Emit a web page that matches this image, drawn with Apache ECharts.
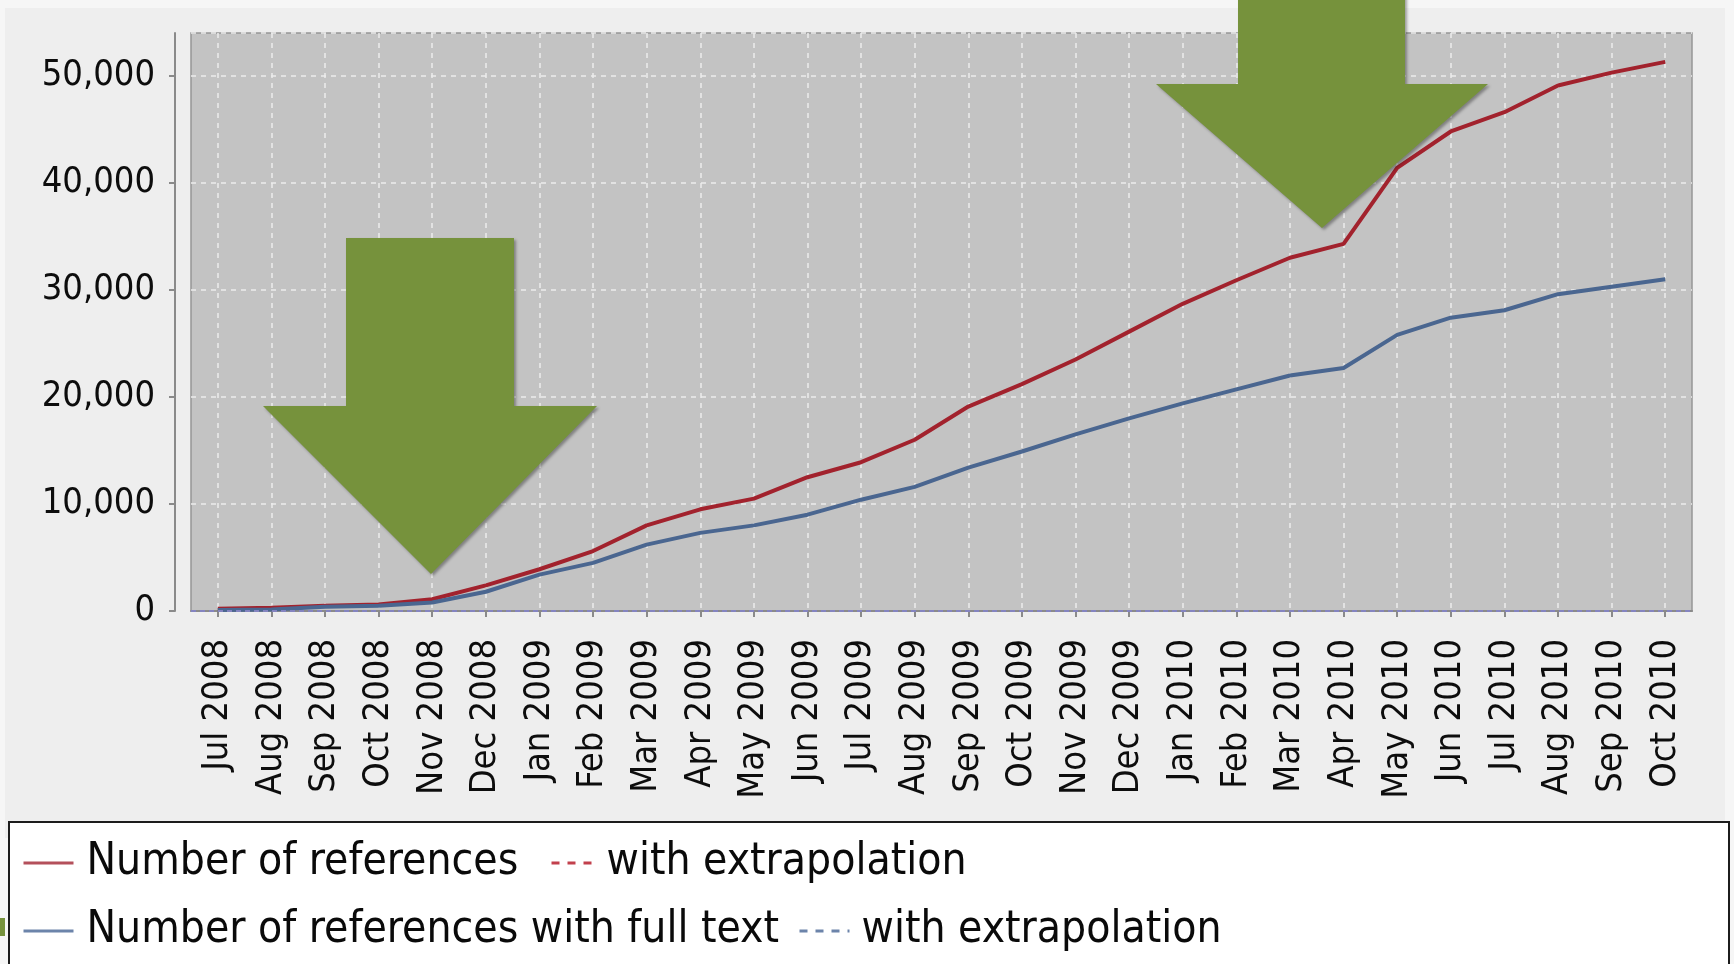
<!DOCTYPE html>
<html>
<head>
<meta charset="utf-8">
<script src="https://cdn.jsdelivr.net/npm/echarts@6/dist/echarts.min.js"></script>
<style>
  html, body { margin: 0; padding: 0; background: #f6f6f6; }
  #chart { width: 1734px; height: 964px; }
</style>
</head>
<body>
<div id="chart"></div>
<script>
  var months = ['Jul 2008', 'Aug 2008', 'Sep 2008', 'Oct 2008', 'Nov 2008', 'Dec 2008',
    'Jan 2009', 'Feb 2009', 'Mar 2009', 'Apr 2009', 'May 2009', 'Jun 2009', 'Jul 2009', 'Aug 2009',
    'Sep 2009', 'Oct 2009', 'Nov 2009', 'Dec 2009', 'Jan 2010', 'Feb 2010', 'Mar 2010', 'Apr 2010',
    'May 2010', 'Jun 2010', 'Jul 2010', 'Aug 2010', 'Sep 2010', 'Oct 2010'];
  var references = [200, 300, 500, 600, 1100, 2400, 3900, 5600, 8000, 9500, 10500, 12500, 13900, 16000,
    19100, 21200, 23500, 26100, 28700, 30900, 33000, 34300, 41400, 44800, 46600, 49100, 50300, 51300];
  var fullText = [100, 150, 400, 500, 800, 1800, 3400, 4500, 6200, 7300, 8000, 9000, 10400, 11600,
    13400, 14900, 16500, 18000, 19400, 20700, 22000, 22700, 25800, 27400, 28100, 29600, 30300, 31000];
  var yTicks = [0, 10000, 20000, 30000, 40000, 50000];

  var FONT = '"DejaVu Sans Condensed", "DejaVu Sans", sans-serif';
  var GREEN = '#76923c';

  var myChart = echarts.init(document.getElementById('chart'));

  // legend entry, one per component so each sits where the original has it
  function legendItem(name, left, top, width, color, gap) {
    return {
      data: [name],
      left: left,
      top: top,
      padding: 0,
      itemWidth: width,
      itemHeight: 12,
      selectedMode: false,
      itemStyle: { opacity: 0 },
      lineStyle: { color: color, width: 3 },
      formatter: function (n) {
        return n.indexOf('extrapolation') >= 0 ? 'with extrapolation' : n;
      },
      textStyle: {
        fontFamily: FONT,
        fontSize: 44,
        color: '#0a0a0a',
        padding: [0, 0, 0, gap]
      }
    };
  }

  myChart.setOption({
    backgroundColor: '#f6f6f6',
    animation: false,
    grid: {
      left: 191,
      right: 42,
      top: 33,
      bottom: 353,
      show: true,
      backgroundColor: '#c3c3c3',
      borderColor: '#979797',
      borderWidth: 1.5
    },
    legend: [
      legendItem('Number of references', 22, 841, 50, '#b4505b', 8),
      legendItem('Number of references with extrapolation', 550, 841, 47, '#c2404c', 3),
      legendItem('Number of references with full text', 22, 909, 50, '#6c84aa', 8),
      legendItem('Number of references with full text with extrapolation', 798, 909, 50, '#6c84aa', 7)
    ],
    xAxis: {
      type: 'category',
      data: months,
      boundaryGap: true,
      offset: 19,
      axisLine: { lineStyle: { color: '#8a8a8a', width: 2 } },
      axisTick: { show: true, alignWithLabel: true, length: 6, lineStyle: { color: '#8a8a8a', width: 2 } },
      axisLabel: {
        interval: 0,
        rotate: 90,
        margin: 9,
        fontFamily: FONT,
        fontSize: 36,
        color: '#0d0d0d'
      },
      splitLine: {
        show: true,
        alignWithLabel: true,
        lineStyle: { color: '#ededed', type: [5, 5], width: 1.5 }
      }
    },
    yAxis: {
      type: 'value',
      min: 0,
      max: 54000,
      offset: 16,
      axisLine: { show: true, lineStyle: { color: '#8a8a8a', width: 2 } },
      axisTick: { show: true, length: 6, lineStyle: { color: '#8a8a8a', width: 2 } },
      axisLabel: {
        showMaxLabel: false,
        margin: 20,
        fontFamily: FONT,
        fontSize: 36,
        color: '#0d0d0d',
        formatter: function (v) {
          return yTicks.indexOf(v) >= 0 ? v.toLocaleString('en-US') : '';
        }
      },
      splitLine: {
        show: true,
        lineStyle: { color: '#ededed', type: [5, 5], width: 1.5 }
      }
    },
    series: [{
      name: 'Number of references',
      type: 'line',
      data: references,
      symbol: 'none',
      color: '#a2222d',
      lineStyle: { color: '#a2222d', width: 4 }
    }, {
      name: 'Number of references with full text',
      type: 'line',
      data: fullText,
      symbol: 'none',
      color: '#4a6690',
      lineStyle: { color: '#4a6690', width: 4 },
      markLine: {
        silent: true,
        symbol: 'none',
        label: { show: false },
        lineStyle: { color: '#8484c0', type: [5, 4], width: 2 },
        data: [{ yAxis: 0 }]
      }
    }, {
      name: 'Number of references with extrapolation',
      type: 'line',
      data: [],
      symbol: 'none',
      color: '#c2404c',
      lineStyle: { color: '#c2404c', width: 3, type: [8, 8] }
    }, {
      name: 'Number of references with full text with extrapolation',
      type: 'line',
      data: [],
      symbol: 'none',
      color: '#6c84aa',
      lineStyle: { color: '#6c84aa', width: 3, type: [8, 8] }
    }],
    graphic: [{
      // panel behind the chart
      type: 'rect',
      z: -10,
      shape: { x: 5, y: 8, width: 1720, height: 830 },
      style: { fill: '#eeeeee' }
    }, {
      // legend box
      type: 'rect',
      z: 1,
      shape: { x: 9, y: 822, width: 1720, height: 160 },
      style: { fill: '#ffffff', stroke: '#1c1c1c', lineWidth: 2 }
    }, {
      type: 'rect',
      z: 2,
      shape: { x: 0, y: 918, width: 5, height: 18 },
      style: { fill: GREEN }
    }, {
      type: 'polygon',
      z: 100,
      shape: { points: [[346, 238], [514, 238], [514, 406], [597, 406], [431, 574], [263, 406], [346, 406]] },
      style: { fill: GREEN, shadowColor: 'rgba(0,0,0,0.35)', shadowBlur: 3, shadowOffsetX: 2, shadowOffsetY: 2 }
    }, {
      type: 'polygon',
      z: 100,
      shape: { points: [[1238, -10], [1405, -10], [1405, 84], [1488, 84], [1322, 228], [1156, 84], [1238, 84]] },
      style: { fill: GREEN, shadowColor: 'rgba(0,0,0,0.35)', shadowBlur: 3, shadowOffsetX: 2, shadowOffsetY: 2 }
    }]
  });

  window.addEventListener('resize', function () {
    myChart.resize();
  });
</script>
</body>
</html>
